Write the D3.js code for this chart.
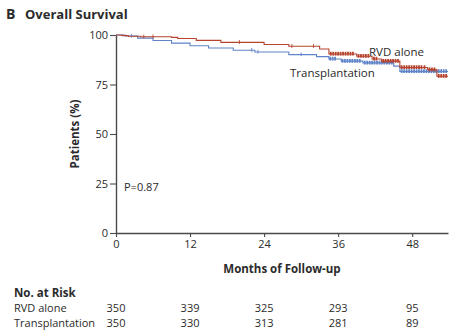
<!DOCTYPE html>
<html>
<head>
<meta charset="utf-8">
<script src="https://cdn.jsdelivr.net/npm/d3@7"></script>
<style>
  html, body { margin: 0; padding: 0; background: #fff; }
  svg { display: block; }
  text { font-family: "Open Sans", Lato, sans-serif; fill: #2b2b2b; }
</style>
</head>
<body>
<svg id="chart" width="458" height="336"></svg>
<script>
// Kaplan–Meier overall survival, two arms
const arms = ["RVD alone", "Transplantation"];

// step points: month at which the curve drops, survival (%) after the drop
const rvdMonths = [0, 1, 2, 4, 9, 10, 13, 17, 24, 28, 33, 34.5, 39, 41.5, 43, 46, 50.5, 52, 53.8];
const rvdSurv   = [100, 99.7, 99.4, 99.1, 98.8, 98.2, 97.3, 96.3, 95.2, 94.3, 92.9, 90.4, 89.3, 87.9, 86.8, 83.6, 82.5, 79.2, 79.2];

const txMonths = [0, 1.5, 3.5, 6, 9, 12, 15, 19, 22.5, 28, 32.5, 34.5, 36.5, 40, 45, 46, 53.8];
const txSurv   = [100, 99.5, 98.4, 97.2, 95.9, 94.6, 93.4, 92.3, 91.4, 90.1, 89.1, 87.9, 86.8, 85.9, 84.3, 81.6, 81.6];

// censored observations (months)
const rvdCensor = [4.5, 6, 20, 28.5, 32, 34.8, 35.2, 35.6, 36.0, 36.4, 36.8, 37.2, 37.6, 38.0, 38.4, 39.3, 39.7, 40.1, 40.5, 40.9, 41.8, 42.2, 43.3, 43.7, 44.1, 44.5, 44.9, 45.3, 45.7, 46.3, 46.7, 47.1, 47.5, 47.9, 48.3, 48.7, 49.1, 49.5, 50.0, 50.8, 51.2, 51.6, 52.3, 52.7, 53.1, 53.5];
const txCensor  = [2.5, 22, 23, 30, 34.7, 35.1, 35.5, 36.7, 37.1, 37.5, 37.9, 38.3, 38.7, 39.1, 39.5, 40.3, 40.7, 41.1, 41.5, 41.9, 42.3, 42.7, 43.1, 43.5, 43.9, 44.3, 44.7, 46.3, 46.7, 47.1, 47.5, 47.9, 48.3, 48.7, 49.1, 49.5, 49.9, 50.3, 50.7, 51.1, 51.5, 51.9, 52.3, 52.7, 53.1, 53.5];

// axis ticks
const xTicks = [0, 12, 24, 36, 48];
const yTicks = [0, 25, 50, 75, 100];

// numbers at risk, one per x tick
const riskRvd = [350, 339, 325, 293, 95];
const riskTx  = [350, 330, 313, 281, 89];

const pValue = "P=0.87";

const colors = { rvd: "#b5432e", tx: "#5f84c8", axis: "#4a4a4a" };

const svg = d3.select("#chart");

const x = d3.scaleLinear().domain([0, 53.8]).range([116, 448]);
const y = d3.scaleLinear().domain([0, 100]).range([233, 35]);

// title
svg.append("text").attr("x", 6).attr("y", 19)
  .attr("font-size", 14).attr("font-weight", 700).text("B");
svg.append("text").attr("x", 25).attr("y", 19)
  .attr("font-size", 13).attr("font-weight", 700).text("Overall Survival");

// y axis
const yAxis = svg.append("g").attr("transform", "translate(116,0)")
  .call(d3.axisLeft(y).tickValues(yTicks).tickSize(6).tickPadding(2).tickSizeOuter(0));
yAxis.select(".domain").attr("stroke", colors.axis).attr("stroke-width", 1.4);
yAxis.selectAll(".tick line").attr("stroke", colors.axis).attr("stroke-width", 1.1);
yAxis.selectAll(".tick text").attr("font-size", 11).attr("fill", "#2b2b2b")
  .style("font-family", "'Open Sans', sans-serif");

// x axis
const xAxis = svg.append("g").attr("transform", "translate(0,233)")
  .call(d3.axisBottom(x).tickValues(xTicks).tickSize(4).tickPadding(3).tickSizeOuter(0));
xAxis.select(".domain").attr("stroke", colors.axis).attr("stroke-width", 1.4);
xAxis.selectAll(".tick line").attr("stroke", colors.axis).attr("stroke-width", 1.1);
xAxis.selectAll(".tick text").attr("font-size", 11).attr("fill", "#2b2b2b")
  .style("font-family", "'Open Sans', sans-serif");

// axis titles
svg.append("text").attr("x", 282).attr("y", 273).attr("text-anchor", "middle")
  .attr("font-size", 11.5).attr("font-weight", 700).text("Months of Follow-up");
svg.append("text").attr("transform", "translate(79,134) rotate(-90)")
  .attr("text-anchor", "middle").attr("font-size", 11.5).attr("font-weight", 700)
  .text("Patients (%)");

// survival curves
const line = d3.line().x(d => x(d[0])).y(d => y(d[1])).curve(d3.curveStepAfter);
const stepAt = (months, surv) => t => {
  const i = d3.bisectRight(months, t) - 1;
  return surv[Math.max(0, i)];
};

function drawArm(months, surv, censor, color) {
  const pts = months.map((m, i) => [m, surv[i]]);
  svg.append("path").datum(pts).attr("d", line)
    .attr("fill", "none").attr("stroke", color).attr("stroke-width", 1.1);
  const f = stepAt(months, surv);
  svg.append("g").selectAll("line").data(censor).join("line")
    .attr("x1", d => x(d)).attr("x2", d => x(d))
    .attr("y1", d => y(f(d)) - 2.2).attr("y2", d => y(f(d)) + 1.6)
    .attr("stroke", color).attr("stroke-width", d => d > 34 ? 1.8 : 0.9);
}

drawArm(txMonths, txSurv, txCensor, colors.tx);
drawArm(rvdMonths, rvdSurv, rvdCensor, colors.rvd);

// curve labels
svg.append("text").attr("x", 369).attr("y", 56).attr("font-size", 11.5).text(arms[0]);
svg.append("text").attr("x", 290).attr("y", 77).attr("font-size", 11.5).text(arms[1]);

// P value
svg.append("text").attr("x", 124).attr("y", 191).attr("font-size", 11).text(pValue);

// numbers at risk
svg.append("text").attr("x", 14).attr("y", 297).attr("font-size", 11.5)
  .attr("font-weight", 700).text("No. at Risk");
const rows = [[arms[0], riskRvd, 312], [arms[1], riskTx, 327]];
rows.forEach(([name, vals, yy]) => {
  svg.append("text").attr("x", 14).attr("y", yy).attr("font-size", 11).text(name);
  svg.append("g").selectAll("text").data(vals).join("text")
    .attr("x", (d, i) => x(xTicks[i])).attr("y", yy)
    .attr("text-anchor", "middle").attr("font-size", 11).text(d => d);
});
</script>
</body>
</html>
